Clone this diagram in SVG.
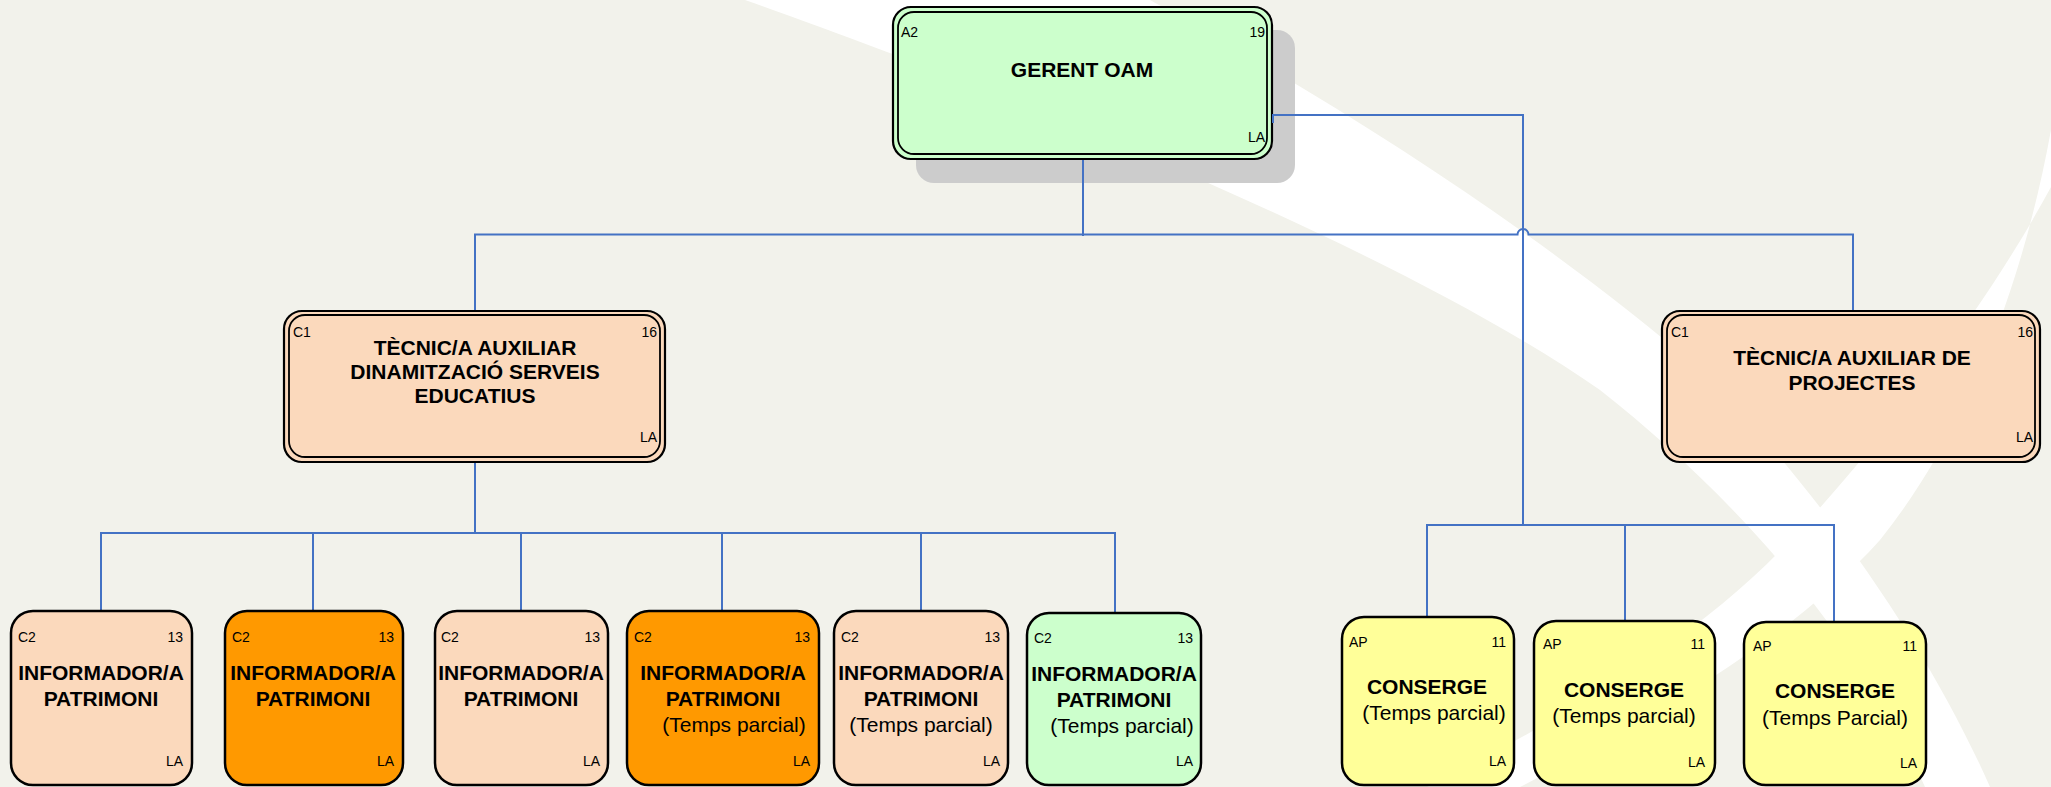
<svg xmlns="http://www.w3.org/2000/svg" width="2051" height="787" viewBox="0 0 2051 787">
<style>
.bg{fill:#f2f2eb}
.band{fill:#ffffff}
.con{fill:none;stroke:#4472c4;stroke-width:2}
.outer{stroke:#000;stroke-width:2.2}
.inner{fill:none;stroke:#000;stroke-width:1.8}
.box{stroke:#000;stroke-width:2.5}
.green{fill:#ccffcc}
.peach{fill:#fbd9bc}
.orange{fill:#ff9900}
.yellow{fill:#ffff99}
.shadow{fill:#cccccc}
.t{font-family:"Liberation Sans",Arial,sans-serif;font-weight:bold;font-size:21px;fill:#000;text-anchor:middle}
.p{font-family:"Liberation Sans",Arial,sans-serif;font-size:21px;fill:#000;text-anchor:middle}
.s{font-family:"Liberation Sans",Arial,sans-serif;font-size:14px;fill:#000}
.e{text-anchor:end}
</style>
<rect class="bg" x="0" y="0" width="2051" height="787"/>
<path class="band" d="M745,0 C1000,90 1400,250 1600,390 C1740,500 1860,640 1925,787 L1990,787 C1930,650 1820,490 1700,370 C1550,240 1350,110 1150,0 Z"/>
<path class="band" d="M2051,187 C1990,300 1900,420 1800,530 C1700,640 1560,720 1427,787 L1520,787 C1650,720 1790,640 1880,540 C1960,440 2020,300 2051,130 Z"/>

<g id="gerent">
<rect class="shadow" x="916" y="30" width="379" height="153" rx="18"/>
<rect class="outer green" x="893" y="7" width="379" height="152" rx="18"/>
<rect class="inner" x="898" y="12" width="369" height="142" rx="16"/>
<text class="s" x="901" y="37">A2</text>
<text class="s e" x="1265" y="37">19</text>
<text class="t" x="1082" y="77">GERENT OAM</text>
<text class="s e" x="1265" y="142">LA</text>
</g>

<g id="connectors">
<path class="con" d="M1083,160 V236"/>
<path class="con" d="M475,311 V234.5 H1517.5 A5.5,5.5 0 0 1 1528.5,234.5 H1853 V311"/>
<path class="con" d="M1273,123 V115 H1523 V525"/>
<path class="con" d="M1427,617 V525 H1834 V622"/>
<path class="con" d="M1625,525 V621"/>
<path class="con" d="M475,462 V533"/>
<path class="con" d="M101,611 V533 H1115 V613"/>
<path class="con" d="M313,533 V611"/>
<path class="con" d="M521,533 V611"/>
<path class="con" d="M722,533 V611"/>
<path class="con" d="M921,533 V611"/>
</g>

<g id="tecnic-dinamitzacio">
<rect class="outer peach" x="284" y="311" width="381" height="151" rx="18"/>
<rect class="inner" x="289" y="315" width="371" height="142" rx="16"/>
<text class="s" x="293" y="337">C1</text>
<text class="s e" x="657" y="337">16</text>
<text class="t" x="475" y="355">TÈCNIC/A AUXILIAR</text>
<text class="t" x="475" y="379">DINAMITZACIÓ SERVEIS</text>
<text class="t" x="475" y="403">EDUCATIUS</text>
<text class="s e" x="657" y="442">LA</text>
</g>

<g id="tecnic-projectes">
<rect class="outer peach" x="1662" y="311" width="378" height="151" rx="18"/>
<rect class="inner" x="1667" y="315" width="368" height="142" rx="16"/>
<text class="s" x="1671" y="337">C1</text>
<text class="s e" x="2033" y="337">16</text>
<text class="t" x="1852" y="365">TÈCNIC/A AUXILIAR DE</text>
<text class="t" x="1852" y="390">PROJECTES</text>
<text class="s e" x="2033" y="442">LA</text>
</g>

<g id="informador-1">
<rect class="box peach" x="11" y="611" width="181" height="174" rx="22"/>
<text class="s" x="18" y="642">C2</text>
<text class="s e" x="183" y="642">13</text>
<text class="t" x="101" y="680">INFORMADOR/A</text>
<text class="t" x="101" y="706">PATRIMONI</text>
<text class="s e" x="183" y="766">LA</text>
</g>

<g id="informador-2">
<rect class="box orange" x="225" y="611" width="178" height="174" rx="22"/>
<text class="s" x="232" y="642">C2</text>
<text class="s e" x="394" y="642">13</text>
<text class="t" x="313" y="680">INFORMADOR/A</text>
<text class="t" x="313" y="706">PATRIMONI</text>
<text class="s e" x="394" y="766">LA</text>
</g>

<g id="informador-3">
<rect class="box peach" x="435" y="611" width="173" height="174" rx="22"/>
<text class="s" x="441" y="642">C2</text>
<text class="s e" x="600" y="642">13</text>
<text class="t" x="521" y="680">INFORMADOR/A</text>
<text class="t" x="521" y="706">PATRIMONI</text>
<text class="s e" x="600" y="766">LA</text>
</g>

<g id="informador-4">
<rect class="box orange" x="627" y="611" width="192" height="174" rx="22"/>
<text class="s" x="634" y="642">C2</text>
<text class="s e" x="810" y="642">13</text>
<text class="t" x="723" y="680">INFORMADOR/A</text>
<text class="t" x="723" y="706">PATRIMONI</text>
<text class="p" x="734" y="732">(Temps parcial)</text>
<text class="s e" x="810" y="766">LA</text>
</g>

<g id="informador-5">
<rect class="box peach" x="834" y="611" width="174" height="174" rx="22"/>
<text class="s" x="841" y="642">C2</text>
<text class="s e" x="1000" y="642">13</text>
<text class="t" x="921" y="680">INFORMADOR/A</text>
<text class="t" x="921" y="706">PATRIMONI</text>
<text class="p" x="921" y="732">(Temps parcial)</text>
<text class="s e" x="1000" y="766">LA</text>
</g>

<g id="informador-6">
<rect class="box green" x="1027" y="613" width="174" height="172" rx="22"/>
<text class="s" x="1034" y="643">C2</text>
<text class="s e" x="1193" y="643">13</text>
<text class="t" x="1114" y="681">INFORMADOR/A</text>
<text class="t" x="1114" y="707">PATRIMONI</text>
<text class="p" x="1122" y="733">(Temps parcial)</text>
<text class="s e" x="1193" y="766">LA</text>
</g>

<g id="conserge-1">
<rect class="box yellow" x="1342" y="617" width="172" height="168" rx="22"/>
<text class="s" x="1349" y="647">AP</text>
<text class="s e" x="1506" y="647">11</text>
<text class="t" x="1427" y="694">CONSERGE</text>
<text class="p" x="1434" y="720">(Temps parcial)</text>
<text class="s e" x="1506" y="766">LA</text>
</g>

<g id="conserge-2">
<rect class="box yellow" x="1534" y="621" width="181" height="164" rx="22"/>
<text class="s" x="1543" y="649">AP</text>
<text class="s e" x="1705" y="649">11</text>
<text class="t" x="1624" y="697">CONSERGE</text>
<text class="p" x="1624" y="723">(Temps parcial)</text>
<text class="s e" x="1705" y="767">LA</text>
</g>

<g id="conserge-3">
<rect class="box yellow" x="1744" y="622" width="182" height="163" rx="22"/>
<text class="s" x="1753" y="651">AP</text>
<text class="s e" x="1917" y="651">11</text>
<text class="t" x="1835" y="698">CONSERGE</text>
<text class="p" x="1835" y="725">(Temps Parcial)</text>
<text class="s e" x="1917" y="768">LA</text>
</g>
</svg>
